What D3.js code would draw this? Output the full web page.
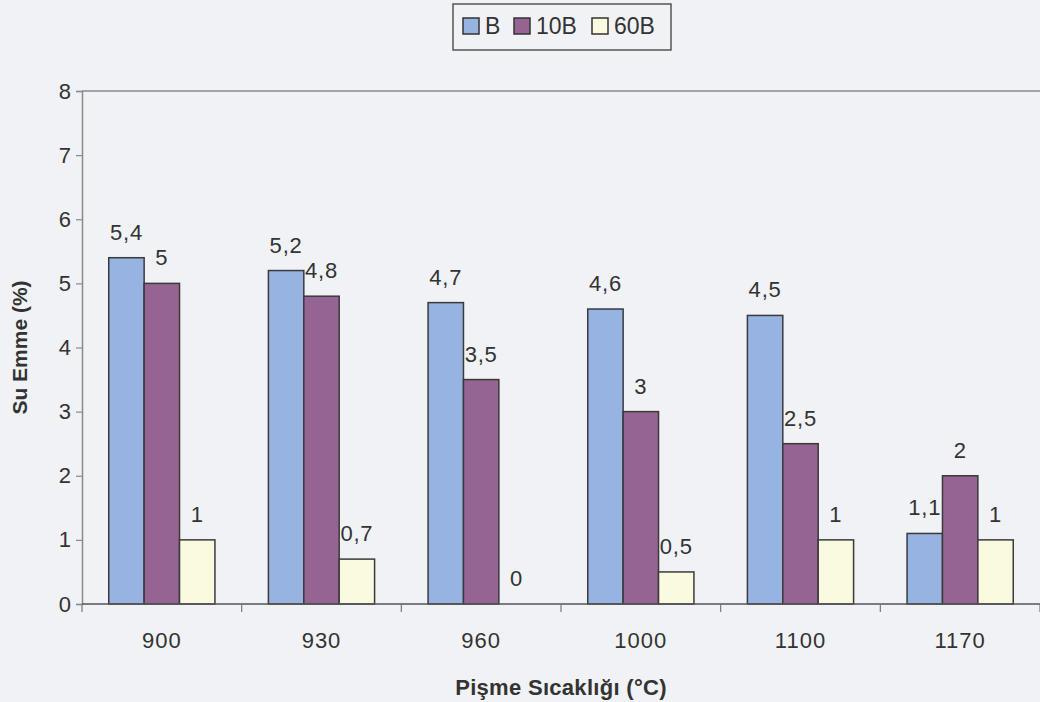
<!DOCTYPE html>
<html>
<head>
<meta charset="utf-8">
<script src="https://cdn.jsdelivr.net/npm/d3@7/dist/d3.min.js"></script>
<style>
  html, body { margin: 0; padding: 0; background: #f0f2f5; }
  svg { display: block; }
  text { font-family: "Liberation Sans", Arial, sans-serif; fill: #333; }
</style>
</head>
<body>
<svg id="chart" width="1040" height="702"></svg>
<script>
// Firing temperature (°C) categories
const temperatures = ["900", "930", "960", "1000", "1100", "1170"];
// Water absorption (%) per mixture
const seriesNames = ["B", "10B", "60B"];
const valuesB   = [5.4, 5.2, 4.7, 4.6, 4.5, 1.1];
const values10B = [5, 4.8, 3.5, 3, 2.5, 2];
const values60B = [1, 0.7, 0, 0.5, 1, 1];
const yTicks = [0, 1, 2, 3, 4, 5, 6, 7, 8];
const seriesColors = ["#96b3e2", "#966492", "#fafae0"];

const seriesValues = [valuesB, values10B, values60B];
const rows = temperatures.map((t, i) => ({
  t, vals: seriesNames.map((s, j) => ({ s, v: seriesValues[j][i], c: seriesColors[j] }))
}));

const W = 1040, H = 702;
const m = { left: 82, right: 0, top: 91, bottom: 98 };
const svg = d3.select("#chart");

const x0 = d3.scaleBand().domain(temperatures)
  .range([m.left, W - m.right]).paddingInner(0.335).paddingOuter(0.1675);
const x1 = d3.scaleBand().domain(seriesNames).range([0, x0.bandwidth()]);
const y = d3.scaleLinear().domain([0, 8]).range([H - m.bottom, m.top]);

// plot frame: top border line
svg.append("line")
  .attr("x1", m.left).attr("x2", W).attr("y1", y(8)).attr("y2", y(8))
  .attr("stroke", "#8a8a8a").attr("stroke-width", 1.5);

// y axis
const yAxis = svg.append("g").attr("transform", `translate(${m.left},0)`)
  .call(d3.axisLeft(y).tickValues(yTicks).tickSize(6).tickPadding(5));
yAxis.select(".domain").attr("stroke", "#8a8a8a").attr("stroke-width", 1.5);
yAxis.selectAll(".tick line").attr("stroke", "#8a8a8a").attr("stroke-width", 1.2);
yAxis.selectAll(".tick text").attr("font-size", 22).attr("fill", "#333")
  .style("font-family", "'Liberation Sans', Arial, sans-serif");

// bars
const groups = svg.append("g").selectAll("g").data(rows).join("g")
  .attr("transform", d => `translate(${x0(d.t)},0)`);
groups.selectAll("rect").data(d => d.vals).join("rect")
  .attr("x", d => x1(d.s)).attr("width", x1.bandwidth())
  .attr("y", d => y(d.v)).attr("height", d => y(0) - y(d.v))
  .attr("fill", d => d.c).attr("stroke", "#3a3a3a").attr("stroke-width", 1.5);

// value labels
groups.selectAll("text").data(d => d.vals).join("text")
  .attr("x", d => x1(d.s) + x1.bandwidth() / 2)
  .attr("y", d => y(d.v) - 18)
  .attr("text-anchor", "middle").attr("font-size", 22).attr("letter-spacing", 0.8)
  .text(d => String(d.v).replace(".", ","));

// x axis with ticks between categories
const xAxisG = svg.append("g").attr("transform", `translate(0,${y(0)})`);
xAxisG.append("line").attr("x1", m.left).attr("x2", W).attr("y1", 0).attr("y2", 0)
  .attr("stroke", "#555").attr("stroke-width", 1.5);
const bounds = temperatures.map(t => x0(t) - x0.step() * x0.paddingOuter());
bounds.push(W - m.right);
xAxisG.selectAll(".xt").data(bounds).join("line").attr("class", "xt")
  .attr("x1", d => d).attr("x2", d => d).attr("y1", 0).attr("y2", 8)
  .attr("stroke", "#777").attr("stroke-width", 1.2);
xAxisG.selectAll(".xl").data(temperatures).join("text").attr("class", "xl")
  .attr("x", d => x0(d) + x0.bandwidth() / 2).attr("y", 44)
  .attr("text-anchor", "middle").attr("font-size", 22).attr("letter-spacing", 1)
  .text(d => d);

// axis titles
svg.append("text").attr("x", 561).attr("y", 695).attr("text-anchor", "middle")
  .attr("font-size", 22).attr("font-weight", "bold").attr("letter-spacing", 0.3)
  .text("Pişme Sıcaklığı (°C)");
svg.append("text").attr("transform", `translate(27,${(y(0) + y(8)) / 2}) rotate(-90)`)
  .attr("text-anchor", "middle").attr("font-size", 21).attr("font-weight", "bold")
  .text("Su Emme (%)");

// legend
const lg = svg.append("g");
lg.append("rect").attr("x", 453).attr("y", 4).attr("width", 218).attr("height", 46)
  .attr("fill", "none").attr("stroke", "#555").attr("stroke-width", 1.5);
const legendX = [463, 514, 592];
const item = lg.selectAll("g").data(seriesNames).join("g")
  .attr("transform", (d, i) => `translate(${legendX[i]},18)`);
item.append("rect").attr("width", 16).attr("height", 16)
  .attr("fill", (d, i) => seriesColors[i]).attr("stroke", "#333").attr("stroke-width", 1.5);
item.append("text").attr("x", 22).attr("y", 15.5).attr("font-size", 23).text(d => d);
</script>
</body>
</html>
